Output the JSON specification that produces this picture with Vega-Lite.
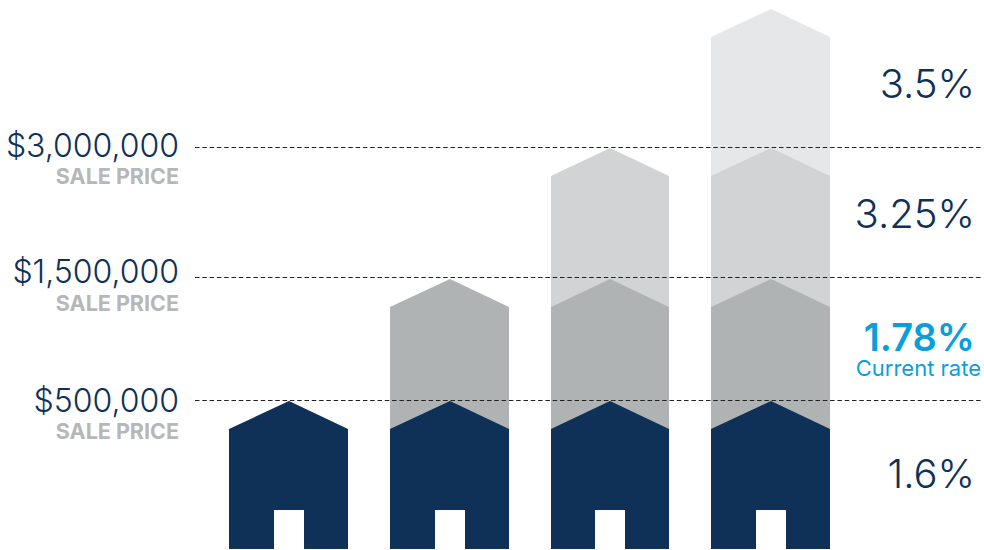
{
"$schema":"https://vega.github.io/schema/vega-lite/v6.json",
"width":984,"height":550,"padding":0,
"autosize":{"type":"fit","contains":"padding"},
"background":"white",
"view":{"stroke":null},
"datasets":{
"roofs":[
{"house":4,"tier":"3.5%","xpos":711,"h":513,"ground":1},{"house":4,"tier":"3.5%","xpos":771,"h":541,"ground":1},{"house":4,"tier":"3.5%","xpos":830,"h":513,"ground":1},
{"house":3,"tier":"3.25%","xpos":551,"h":374,"ground":1},{"house":3,"tier":"3.25%","xpos":610,"h":402,"ground":1},{"house":3,"tier":"3.25%","xpos":669,"h":374,"ground":1},
{"house":4,"tier":"3.25%","xpos":711,"h":374,"ground":1},{"house":4,"tier":"3.25%","xpos":771,"h":402,"ground":1},{"house":4,"tier":"3.25%","xpos":830,"h":374,"ground":1},
{"house":2,"tier":"1.78%","xpos":390,"h":243,"ground":1},{"house":2,"tier":"1.78%","xpos":450,"h":271,"ground":1},{"house":2,"tier":"1.78%","xpos":509,"h":243,"ground":1},
{"house":3,"tier":"1.78%","xpos":551,"h":243,"ground":1},{"house":3,"tier":"1.78%","xpos":610,"h":271,"ground":1},{"house":3,"tier":"1.78%","xpos":669,"h":243,"ground":1},
{"house":4,"tier":"1.78%","xpos":711,"h":243,"ground":1},{"house":4,"tier":"1.78%","xpos":771,"h":271,"ground":1},{"house":4,"tier":"1.78%","xpos":830,"h":243,"ground":1},
{"house":1,"tier":"1.6%","xpos":229,"h":121,"ground":1},{"house":1,"tier":"1.6%","xpos":289,"h":149,"ground":1},{"house":1,"tier":"1.6%","xpos":348,"h":121,"ground":1},
{"house":2,"tier":"1.6%","xpos":390,"h":121,"ground":1},{"house":2,"tier":"1.6%","xpos":450,"h":149,"ground":1},{"house":2,"tier":"1.6%","xpos":509,"h":121,"ground":1},
{"house":3,"tier":"1.6%","xpos":551,"h":121,"ground":1},{"house":3,"tier":"1.6%","xpos":610,"h":149,"ground":1},{"house":3,"tier":"1.6%","xpos":669,"h":121,"ground":1},
{"house":4,"tier":"1.6%","xpos":711,"h":121,"ground":1},{"house":4,"tier":"1.6%","xpos":771,"h":149,"ground":1},{"house":4,"tier":"1.6%","xpos":830,"h":121,"ground":1}
],
"doors":[
{"house":1,"left":274,"right":304,"top":40,"ground":0},
{"house":2,"left":435,"right":465,"top":40,"ground":0},
{"house":3,"left":595,"right":625,"top":40,"ground":0},
{"house":4,"left":756,"right":786,"top":40,"ground":0}
],
"prices":[
{"price":"$3,000,000","label":"SALE PRICE","h":402.5,"base":393,"sub":366},
{"price":"$1,500,000","label":"SALE PRICE","h":272.5,"base":267,"sub":239},
{"price":"$500,000","label":"SALE PRICE","h":149.5,"base":138,"sub":111}
],
"rates":[
{"rate":"3.5%","base":452},
{"rate":"3.25%","base":322},
{"rate":"1.6%","base":62}
],
"current":[{"rate":"1.78%","note":"Current rate","base":199,"noteBase":174}]
},
"layer":[
{"data":{"name":"roofs"},"mark":{"type":"area","interpolate":"linear"},
"encoding":{
"x":{"field":"xpos","type":"quantitative","scale":{"domain":[0,984],"nice":false,"zero":false},"axis":null},
"y":{"field":"h","type":"quantitative","scale":{"domain":[0,550],"nice":false},"axis":null},
"y2":{"field":"ground"},
"detail":{"field":"house","type":"nominal"},
"color":{"field":"tier","type":"nominal","legend":null,"scale":{"domain":["3.5%","3.25%","1.78%","1.6%"],"range":["#e6e7e9","#d1d3d5","#afb3b4","#0f3057"]}}
}},
{"data":{"name":"doors"},"mark":{"type":"rect","color":"#ffffff"},
"encoding":{
"x":{"field":"left","type":"quantitative"},"x2":{"field":"right"},
"y":{"field":"top","type":"quantitative"},"y2":{"field":"ground"}
}},
{"data":{"name":"prices"},"mark":{"type":"rule","color":"#222222","strokeWidth":1,"strokeDash":[4.5,2.8]},
"encoding":{"x":{"datum":195},"x2":{"datum":982},"y":{"field":"h","type":"quantitative"}}},
{"data":{"name":"prices"},"mark":{"type":"text","align":"right","baseline":"alphabetic","font":"Inter","fontWeight":300,"fontSize":32,"color":"#0f3057"},
"encoding":{"x":{"datum":179},"y":{"field":"base","type":"quantitative"},"text":{"field":"price"}}},
{"data":{"name":"prices"},"mark":{"type":"text","align":"right","baseline":"alphabetic","font":"Inter","fontWeight":"bold","fontSize":21.5,"color":"#b5b7b9"},
"encoding":{"x":{"datum":179},"y":{"field":"sub","type":"quantitative"},"text":{"field":"label"}}},
{"data":{"name":"rates"},"mark":{"type":"text","align":"right","baseline":"alphabetic","font":"Inter","fontWeight":300,"fontSize":40,"color":"#0f3057"},
"encoding":{"x":{"datum":975},"y":{"field":"base","type":"quantitative"},"text":{"field":"rate"}}},
{"data":{"name":"current"},"mark":{"type":"text","align":"right","baseline":"alphabetic","font":"Inter","fontWeight":600,"fontSize":38,"color":"#0a9fdc"},
"encoding":{"x":{"datum":975},"y":{"field":"base","type":"quantitative"},"text":{"field":"rate"}}},
{"data":{"name":"current"},"mark":{"type":"text","align":"right","baseline":"alphabetic","font":"Inter","fontSize":22,"color":"#0a9fdc"},
"encoding":{"x":{"datum":981},"y":{"field":"noteBase","type":"quantitative"},"text":{"field":"note"}}}
]
}
